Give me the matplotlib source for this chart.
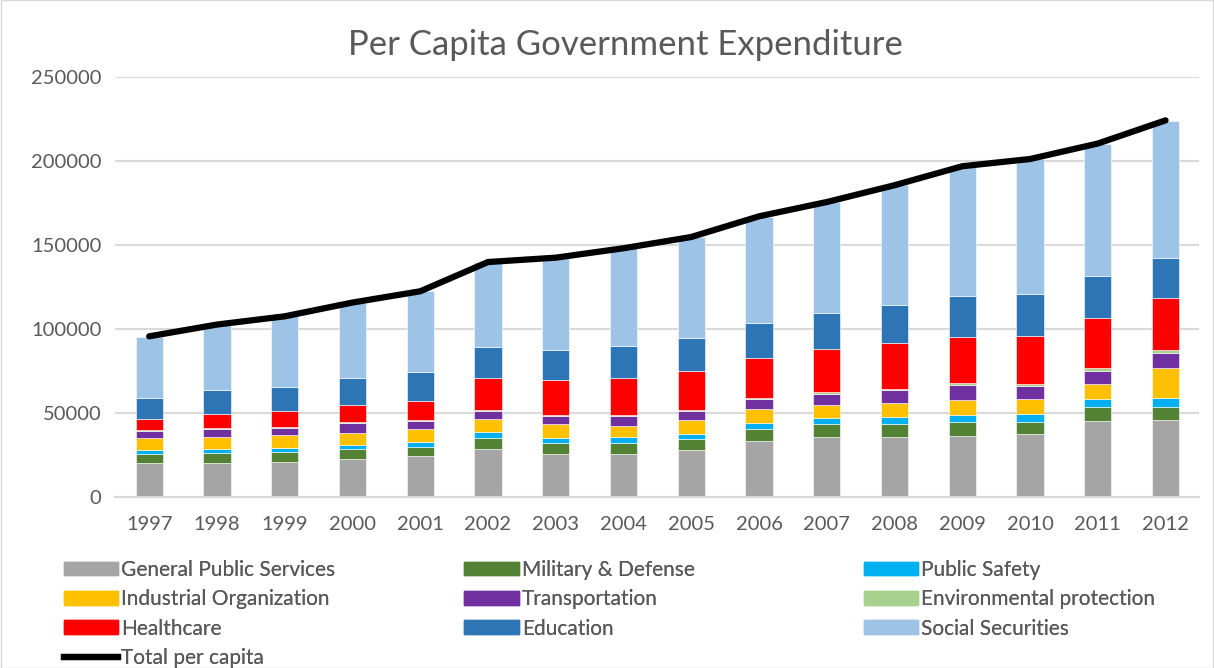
import matplotlib
matplotlib.use("Agg")
import matplotlib.pyplot as plt
from matplotlib.lines import Line2D
from matplotlib.patches import Patch, Rectangle
import numpy as np

years = ["1997", "1998", "1999", "2000", "2001", "2002", "2003", "2004",
         "2005", "2006", "2007", "2008", "2009", "2010", "2011", "2012"]

general_public_services = [20000, 20500, 20600, 22400, 24200, 28600, 25400, 25400,
                           28000, 33100, 35700, 35500, 36500, 37300, 45500, 46100]
military_defense = [5800, 5700, 6200, 6000, 5600, 6500, 6600, 6600,
                    6500, 7400, 7700, 8200, 8100, 7600, 8300, 7700]
public_safety = [2000, 2400, 2400, 2800, 2900, 3600, 3300, 3500,
                 3000, 3300, 3600, 3900, 4000, 4300, 4300, 4900]
industrial_organization = [7300, 7100, 7500, 7100, 8000, 7700, 8100, 7000,
                           8100, 8400, 7700, 8300, 9100, 8900, 9100, 18100]
transportation = [4000, 4800, 4600, 5700, 4500, 4800, 4800, 5500,
                  5600, 6100, 6800, 7600, 8900, 7900, 8000, 8900]
environmental_protection = [600, 600, 400, 600, 800, 800, 600, 600,
                            800, 400, 800, 1000, 1500, 1500, 1600, 1800]
healthcare = [6700, 8300, 9300, 10400, 10900, 19000, 21100, 22400,
              23000, 24200, 25800, 27100, 27100, 28300, 29500, 30900]
education = [12700, 14100, 14500, 15800, 17300, 18300, 17800, 18700,
             19600, 20600, 21400, 22600, 24200, 24800, 25200, 23800]
social_securities = [36100, 39100, 42000, 44900, 48200, 50500, 54700, 58300,
                     60100, 63000, 66000, 71300, 77400, 80500, 78800, 81800]
total_per_capita = [95600, 102600, 107500, 115700, 122400, 139800, 142400, 148000,
                    154700, 167000, 175500, 185500, 196800, 201100, 210300, 224100]

series_names = ["General Public Services", "Military & Defense", "Public Safety",
                "Industrial Organization", "Transportation", "Environmental protection",
                "Healthcare", "Education", "Social Securities"]
series_values = [general_public_services, military_defense, public_safety,
                 industrial_organization, transportation, environmental_protection,
                 healthcare, education, social_securities]
series_colors = ["#A5A5A5", "#548235", "#00B0F0", "#FFC000", "#7030A0",
                 "#A9D18E", "#FF0000", "#2E75B6", "#9DC3E6"]

plt.rcParams['font.family'] = ['Lato', 'DejaVu Sans']
text_color = "#595959"

fig = plt.figure(figsize=(12.14, 6.68), dpi=100)
ax = fig.add_axes([0.095, 0.256, 0.893, 0.629])

x = np.arange(len(years))
bottom = np.zeros(len(years))
handles = {}
for name, vals, col in zip(series_names, series_values, series_colors):
    v = np.array(vals, dtype=float)
    ax.bar(x, v, 0.4, bottom=bottom, color=col, edgecolor="white",
           linewidth=0.4, zorder=2)
    handles[name] = Patch(facecolor=col, edgecolor=col)
    bottom += v

ax.plot(x, total_per_capita, color="black", linewidth=4.5, zorder=3,
        solid_capstyle="round")
handles["Total per capita"] = Line2D([0], [0], color="black", linewidth=4.5)

ax.set_xlim(-0.5, len(years) - 0.5)
ax.set_ylim(0, 250000)
ax.set_yticks(np.arange(0, 250001, 50000))
ax.yaxis.grid(True, color="#D9D9D9", linewidth=1.5, zorder=0)
ax.set_axisbelow(True)
ax.set_xticks(x)
ax.set_xticklabels(years)
for s in ["top", "right", "left"]:
    ax.spines[s].set_visible(False)
ax.spines["bottom"].set_color("#D9D9D9")
ax.spines["bottom"].set_linewidth(1.5)
ax.tick_params(axis="both", length=0, labelsize=14.5, labelcolor=text_color)
ax.tick_params(axis="x", pad=14)
ax.tick_params(axis="y", pad=10)

fig.text(0.515, 0.933, "Per Capita Government Expenditure", fontsize=25,
         color=text_color, ha="center", va="center")

columns = [
    ["General Public Services", "Industrial Organization", "Healthcare", "Total per capita"],
    ["Military & Defense", "Transportation", "Education"],
    ["Public Safety", "Environmental protection", "Social Securities"],
]
col_x = [0.0525, 0.3825, 0.7115]
for names, cx in zip(columns, col_x):
    leg = fig.legend([handles[n] for n in names], names, ncol=1,
                     loc="upper left", bbox_to_anchor=(cx, 0.162),
                     frameon=False, fontsize=15, labelcolor=text_color,
                     handlelength=2.6, handleheight=0.65, handletextpad=0.15,
                     labelspacing=0.45, borderaxespad=0, borderpad=0)
    fig.add_artist(leg)

fig.add_artist(Rectangle((0.0005, 0.0005), 0.999, 0.999, transform=fig.transFigure,
                         fill=False, edgecolor="#D9D9D9", linewidth=1))

fig.savefig("out.png", dpi=100)
